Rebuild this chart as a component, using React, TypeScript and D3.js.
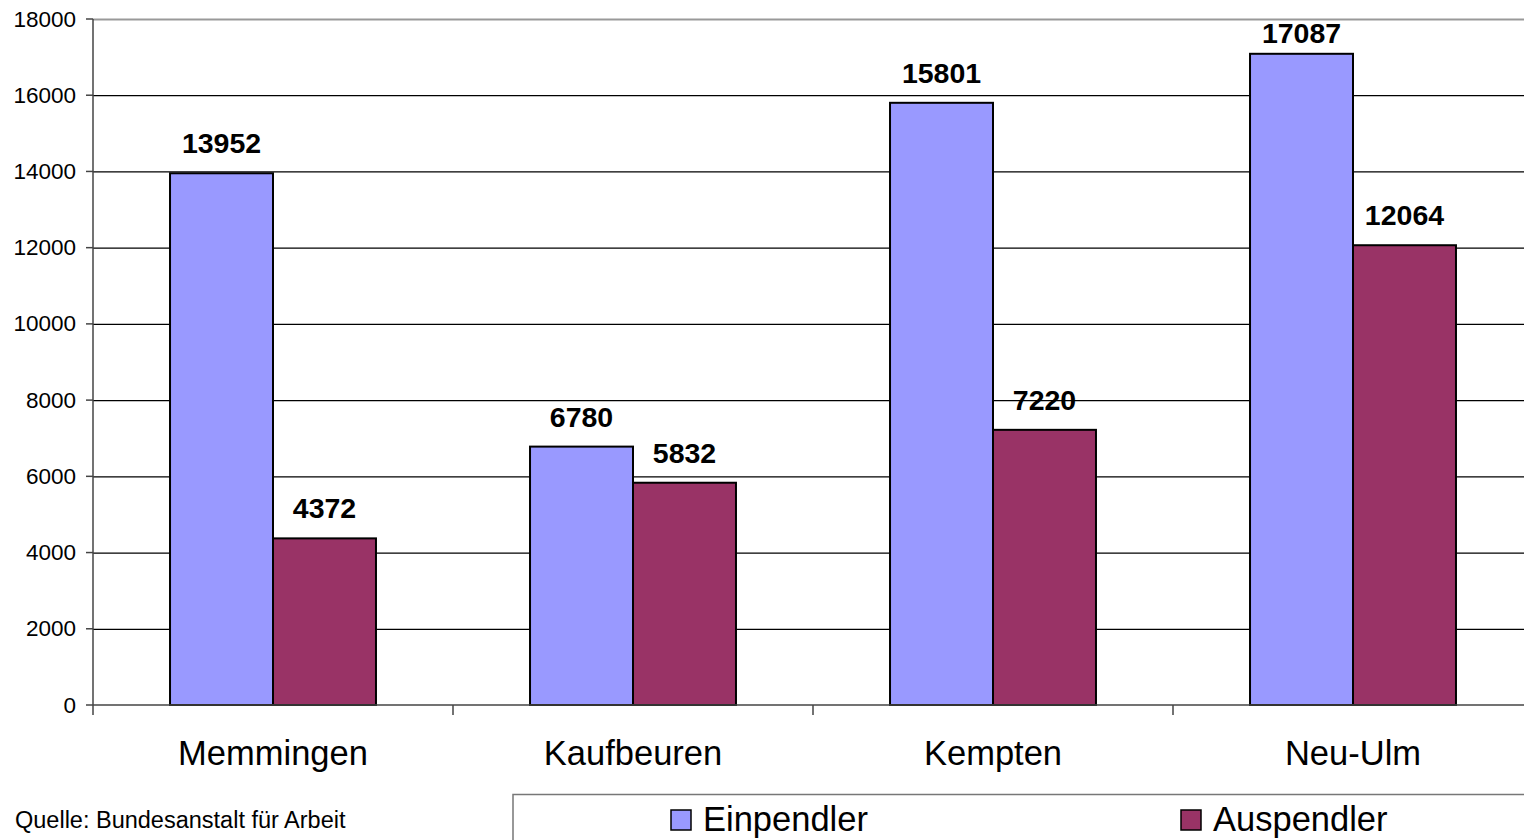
import * as d3 from "d3";
import { useEffect, useRef } from "react";

const categories = ["Memmingen", "Kaufbeuren", "Kempten", "Neu-Ulm"];
const seriesNames = ["Einpendler", "Auspendler"];
const einpendler = [13952, 6780, 15801, 17087];
const auspendler = [4372, 5832, 7220, 12064];
const yTicks = [0, 2000, 4000, 6000, 8000, 10000, 12000, 14000, 16000, 18000];
const source = "Quelle: Bundesanstalt für Arbeit";

const colors = ["#9999ff", "#993366"];
const font = "'Liberation Sans', Arial, Helvetica, sans-serif";

export default function App() {
	const ref = useRef<SVGSVGElement | null>(null);

	useEffect(() => {
		if (!ref.current) return;
		document.body.style.margin = "0";
		const svg = d3.select(ref.current);
		svg.selectAll("*").remove();

		const width = 1524;
		const height = 840;
		const left = 93;
		const top = 19;
		const bottom = 705;

		const x0 = d3.scaleBand<string>().domain(categories).range([left, left + 1440]);
		const x1 = d3
			.scaleBand<string>()
			.domain(seriesNames)
			.range([0, x0.bandwidth()])
			.paddingInner(0)
			.paddingOuter(0.748);
		const y = d3.scaleLinear().domain([0, 18000]).range([bottom, top]);

		svg.attr("width", width).attr("height", height);
		svg.append("rect").attr("width", width).attr("height", height).attr("fill", "#fff");

		// gridlines
		svg
			.append("g")
			.selectAll("line")
			.data(yTicks.filter((t) => t > 0))
			.enter()
			.append("line")
			.attr("x1", left)
			.attr("x2", width)
			.attr("y1", (d) => y(d) + 0.5)
			.attr("y2", (d) => y(d) + 0.5)
			.attr("stroke", (d) => (d === 18000 ? "#999" : "#000"))
			.attr("stroke-width", (d) => (d === 18000 ? 2 : 1.2));

		// bars
		const data = categories.map((c, i) => ({
			cat: c,
			values: [
				{ s: seriesNames[0], v: einpendler[i] },
				{ s: seriesNames[1], v: auspendler[i] },
			],
		}));

		const groups = svg
			.append("g")
			.selectAll("g")
			.data(data)
			.enter()
			.append("g")
			.attr("transform", (d) => `translate(${x0(d.cat)},0)`);

		groups
			.selectAll("rect")
			.data((d) => d.values)
			.enter()
			.append("rect")
			.attr("x", (d) => x1(d.s)!)
			.attr("y", (d) => y(d.v))
			.attr("width", x1.bandwidth())
			.attr("height", (d) => bottom - y(d.v))
			.attr("fill", (d, i) => colors[i])
			.attr("stroke", "#000")
			.attr("stroke-width", 2);

		// labels are kept inside the plot area (like the original)
		groups
			.selectAll("text")
			.data((d) => d.values)
			.enter()
			.append("text")
			.attr("x", (d) => x1(d.s)! + x1.bandwidth() / 2)
			.attr("y", (d) => Math.max(y(d.v) - 20, top + 24))
			.attr("text-anchor", "middle")
			.style("font-family", font)
			.style("font-weight", "bold")
			.style("font-size", "28.5px")
			.text((d) => String(d.v));

		// axes
		svg
			.append("line")
			.attr("x1", left)
			.attr("x2", left)
			.attr("y1", top)
			.attr("y2", bottom + 10)
			.attr("stroke", "#444")
			.attr("stroke-width", 1.5);
		svg
			.append("line")
			.attr("x1", left)
			.attr("x2", width)
			.attr("y1", bottom)
			.attr("y2", bottom)
			.attr("stroke", "#444")
			.attr("stroke-width", 1.5);

		const yAxis = svg.append("g");
		yAxis
			.selectAll("line")
			.data(yTicks)
			.enter()
			.append("line")
			.attr("x1", left - 7)
			.attr("x2", left)
			.attr("y1", (d) => y(d))
			.attr("y2", (d) => y(d))
			.attr("stroke", "#444")
			.attr("stroke-width", 1.5);
		yAxis
			.selectAll("text")
			.data(yTicks)
			.enter()
			.append("text")
			.attr("x", left - 17)
			.attr("y", (d) => y(d) + 7.5)
			.attr("text-anchor", "end")
			.style("font-family", font)
			.style("font-size", "22.5px")
			.text((d) => String(d));

		const xAxis = svg.append("g");
		xAxis
			.selectAll("line")
			.data(categories.slice(1))
			.enter()
			.append("line")
			.attr("x1", (d) => x0(d)!)
			.attr("x2", (d) => x0(d)!)
			.attr("y1", bottom)
			.attr("y2", bottom + 10)
			.attr("stroke", "#444")
			.attr("stroke-width", 1.5);
		xAxis
			.selectAll("text")
			.data(categories)
			.enter()
			.append("text")
			.attr("x", (d) => x0(d)! + x0.bandwidth() / 2)
			.attr("y", 765)
			.attr("text-anchor", "middle")
			.style("font-family", font)
			.style("font-size", "34.5px")
			.text((d) => d);

		// source note
		svg
			.append("text")
			.attr("x", 15)
			.attr("y", 828)
			.style("font-family", font)
			.style("font-size", "23.5px")
			.text(source);

		// legend
		svg
			.append("rect")
			.attr("x", 513)
			.attr("y", 794.5)
			.attr("width", 1100)
			.attr("height", 100)
			.attr("fill", "#fff")
			.attr("stroke", "#777")
			.attr("stroke-width", 1.5);

		const legendX = [671, 1181];
		const legend = svg
			.append("g")
			.selectAll("g")
			.data(seriesNames)
			.enter()
			.append("g")
			.attr("transform", (d, i) => `translate(${legendX[i]},810)`);
		legend
			.append("rect")
			.attr("width", 20)
			.attr("height", 20)
			.attr("fill", (d, i) => colors[i])
			.attr("stroke", "#000")
			.attr("stroke-width", 1.5);
		legend
			.append("text")
			.attr("x", 32)
			.attr("y", 21)
			.style("font-family", font)
			.style("font-size", "34.5px")
			.text((d) => d);
	}, []);

	return <svg ref={ref} style={{ display: "block" }} />;
}
